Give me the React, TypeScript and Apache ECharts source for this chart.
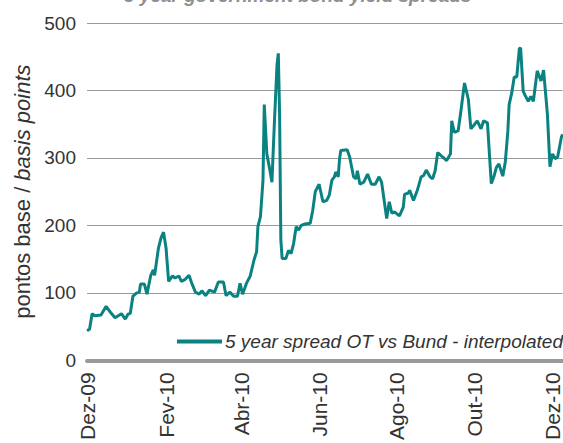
import React, { useEffect, useRef } from "react";
import * as echarts from "echarts";

const title = "5 year government bond yield spreads";
const seriesName = "5 year spread OT vs Bund - interpolated";
const yTicks = [0, 100, 200, 300, 400, 500];
const tickDates = ["2009-12-01", "2010-02-01", "2010-04-01", "2010-06-01", "2010-08-01", "2010-10-01", "2010-12-01"];
const tickLabels = ["Dez-09", "Fev-10", "Abr-10", "Jun-10", "Ago-10", "Out-10", "Dez-10"];

const dates = [
  "2009-12-01", "2009-12-03", "2009-12-05", "2009-12-07", "2009-12-12", "2009-12-16", "2009-12-19", "2009-12-23",
  "2009-12-28", "2009-12-31", "2010-01-02", "2010-01-04", "2010-01-06", "2010-01-09", "2010-01-11", "2010-01-12",
  "2010-01-15", "2010-01-17", "2010-01-20", "2010-01-22", "2010-01-23", "2010-01-26", "2010-01-28", "2010-01-30",
  "2010-02-01", "2010-02-03", "2010-02-06", "2010-02-08", "2010-02-11", "2010-02-13", "2010-02-16", "2010-02-19",
  "2010-02-21", "2010-02-24", "2010-02-27", "2010-03-01", "2010-03-04", "2010-03-07", "2010-03-11", "2010-03-14",
  "2010-03-18", "2010-03-20", "2010-03-23", "2010-03-26", "2010-03-29", "2010-03-31", "2010-04-02", "2010-04-05",
  "2010-04-08", "2010-04-11", "2010-04-13", "2010-04-14", "2010-04-16", "2010-04-18", "2010-04-19", "2010-04-21",
  "2010-04-23", "2010-04-25", "2010-04-27", "2010-04-29", "2010-04-30", "2010-05-01", "2010-05-02", "2010-05-03",
  "2010-05-06", "2010-05-08", "2010-05-10", "2010-05-12", "2010-05-14", "2010-05-16", "2010-05-18", "2010-05-21",
  "2010-05-25", "2010-05-27", "2010-05-29", "2010-06-01", "2010-06-04", "2010-06-07", "2010-06-09", "2010-06-11",
  "2010-06-13", "2010-06-14", "2010-06-16", "2010-06-17", "2010-06-18", "2010-06-23", "2010-06-25", "2010-06-28",
  "2010-06-30", "2010-07-01", "2010-07-03", "2010-07-06", "2010-07-09", "2010-07-12", "2010-07-15", "2010-07-18",
  "2010-07-20", "2010-07-22", "2010-07-24", "2010-07-26", "2010-07-28", "2010-07-30", "2010-08-03", "2010-08-06",
  "2010-08-07", "2010-08-10", "2010-08-11", "2010-08-14", "2010-08-17", "2010-08-20", "2010-08-22", "2010-08-24",
  "2010-08-27", "2010-08-29", "2010-08-31", "2010-09-02", "2010-09-06", "2010-09-09", "2010-09-12", "2010-09-13",
  "2010-09-15", "2010-09-18", "2010-09-20", "2010-09-23", "2010-09-26", "2010-09-28", "2010-10-01", "2010-10-03",
  "2010-10-06", "2010-10-08", "2010-10-11", "2010-10-14", "2010-10-16", "2010-10-18", "2010-10-20", "2010-10-23",
  "2010-10-25", "2010-10-27", "2010-10-28", "2010-10-30", "2010-11-01", "2010-11-03", "2010-11-05", "2010-11-06",
  "2010-11-08", "2010-11-10", "2010-11-12", "2010-11-14", "2010-11-16", "2010-11-18", "2010-11-19", "2010-11-22",
  "2010-11-24", "2010-11-27", "2010-11-29", "2010-12-01", "2010-12-03", "2010-12-05", "2010-12-08", "2010-12-09",
];

const spread = [
  44, 46, 69, 66, 67, 80, 72, 63,
  69, 61, 68, 70, 95, 100, 101, 113,
  113, 98, 126, 134, 126, 166, 181, 190,
  166, 117, 125, 122, 125, 117, 120, 126,
  115, 101, 98, 103, 96, 104, 101, 116,
  116, 96, 101, 95, 95, 114, 98, 114,
  125, 149, 161, 198, 213, 267, 379, 306,
  286, 264, 355, 438, 455, 366, 178, 151,
  151, 163, 158, 173, 198, 193, 200, 202,
  203, 222, 250, 261, 235, 237, 245, 267,
  272, 279, 272, 298, 311, 312, 301, 272,
  269, 281, 261, 264, 276, 261, 261, 272,
  264, 237, 210, 235, 218, 220, 214, 227,
  246, 248, 252, 237, 252, 272, 274, 282,
  272, 269, 281, 308, 301, 296, 306, 355,
  338, 340, 367, 411, 387, 343, 350, 355,
  343, 355, 352, 262, 272, 286, 291, 273,
  294, 340, 379, 396, 420, 420, 462, 463,
  399, 391, 384, 391, 384, 414, 429, 414,
  430, 365, 287, 306, 299, 301, 331, 335,
];

const DAY = 86400000;
const start = Date.parse("2009-12-01T00:00:00Z");
const toDay = (d: string) => (Date.parse(d + "T00:00:00Z") - start) / DAY;

const FONT = "Liberation Sans, Arial, sans-serif";

export default function App() {
  const ref = useRef<HTMLDivElement>(null);
  useEffect(() => {
    if (!ref.current) return;
    const chart = echarts.init(ref.current, null, { renderer: "svg" });
    const tickPos = tickDates.map(toDay);
    const labelMap: Record<string, string> = {};
    tickPos.forEach((p, i) => (labelMap[String(p)] = tickLabels[i]));
    chart.setOption({
      animation: false,
      backgroundColor: "#ffffff",
      textStyle: { fontFamily: FONT },
      graphic: [
        {
          type: "text",
          left: 296 - 172,
          top: -14,
          style: {
            text: title,
            fontFamily: FONT,
            fontSize: 19,
            fontWeight: "bold",
            fontStyle: "italic",
            fill: "#8f8f8f",
          },
        },
      ],
      legend: {
        data: [seriesName],
        left: 177,
        top: 332,
        icon: "rect",
        itemWidth: 45,
        itemHeight: 4,
        itemGap: 0,
        padding: 0,
        textStyle: {
          fontFamily: FONT,
          fontSize: 19,
          fontStyle: "italic",
          color: "#333333",
          padding: [0, 0, 0, -2],
        },
      },
      grid: { left: 87, right: 0, top: 23, bottom: 80, containLabel: false },
      xAxis: {
        type: "value",
        min: 0,
        max: 373,
        splitLine: { show: false },
        axisLine: { show: true, onZero: false, lineStyle: { color: "#9a9a9a", width: 4 } },
        axisTick: { show: false },
        axisLabel: {
          customValues: tickPos,
          rotate: 90,
          margin: 12,
          fontFamily: FONT,
          fontSize: 21,
          color: "#333333",
          formatter: (v: number) => labelMap[String(v)] ?? "",
        },
      },
      yAxis: {
        type: "value",
        min: 0,
        max: 500,
        interval: 100,
        name: "{a|pontos base / }{b|basis points}",
        nameLocation: "middle",
        nameRotate: 90,
        nameGap: 54,
        nameTextStyle: {
          rich: {
            a: { fontFamily: FONT, fontSize: 22, color: "#333333" },
            b: { fontFamily: FONT, fontSize: 22, color: "#333333", fontStyle: "italic" },
          },
        },
        axisLine: { show: false },
        axisTick: { show: false },
        splitLine: { lineStyle: { color: "#9a9a9a", width: 1 } },
        axisLabel: {
          margin: 11,
          fontFamily: FONT,
          fontSize: 19,
          color: "#333333",
          formatter: (v: number) => (yTicks.includes(v) ? String(v) : ""),
        },
      },
      series: [
        {
          name: seriesName,
          type: "line",
          data: dates.map((d, i) => [toDay(d), spread[i]]),
          showSymbol: false,
          symbol: "none",
          lineStyle: { color: "#0b8282", width: 3 },
          itemStyle: { color: "#0b8282" },
          z: 3,
        },
      ],
    });
    return () => chart.dispose();
  }, []);
  return (
    <div
      ref={ref}
      style={{ position: "absolute", left: 0, top: 0, width: 563, height: 443 }}
    />
  );
}
